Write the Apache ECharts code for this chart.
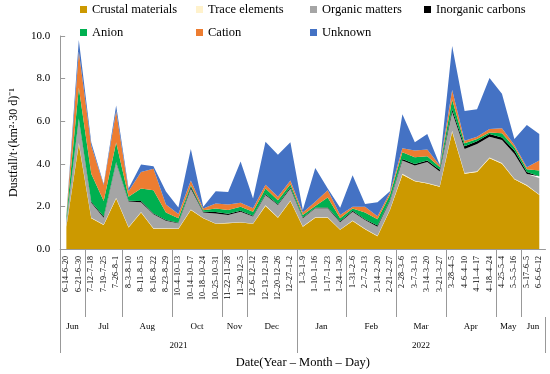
<!DOCTYPE html>
<html><head><meta charset="utf-8">
<script src="https://cdn.jsdelivr.net/npm/echarts@6/dist/echarts.min.js"></script>
<style>html,body{margin:0;padding:0;background:#fff}#c{width:550px;height:374px}</style>
</head><body><div id="c"></div>
<script>
const categories = ['6–14–6–20','6–21–6–30','7–12–7–18','7–19–7–25','7–26–8–1','8–3–8–10','8–11–8–15','8–16–8–22','8–23–8–29','10–4–10–13','10–14–10–17','10–18–10–24','10–25–10–31','11–22–11–28','11–29–12–5','12–6–12–12','12–13–12–19','12–20–12–26','12–27–1–2','1–3–1–9','1–10–1–16','1–17–1–23','1–24–1–30','1–31–2–6','2–7–2–13','2–14–2–20','2–21–2–27','2–28–3–6','3–7–3–13','3–14–3–20','3–21–3–27','3–28–4–5','4–6–4–10','4–11–4–17','4–18–4–24','4–25–5–4','5–5–5–16','5–17–6–5','6–6–6–12'];
const monthNames = ['Jun','Jul','Aug','Oct','Nov','Dec','Jan','Feb','Mar','Apr','May','Jun'];
const monthCounts = [2,3,4,4,2,4,4,4,4,4,2,2];
const yearNames = ['2021','2022'];
const yearCounts = [19,20];
const yTicks = [0,2,4,6,8,10];

const crustal = [1.05,4.93,1.44,1.13,2.37,1.01,1.71,0.95,0.95,0.94,1.83,1.44,1.18,1.21,1.24,1.18,2.02,1.47,2.25,1.05,1.47,1.47,0.90,1.32,0.93,0.60,1.83,3.49,3.18,3.07,2.92,5.50,3.53,3.61,4.26,4.00,3.27,2.97,2.53];
const trace = [0.02,0.05,0.03,0.02,0.04,0.02,0.03,0.02,0.02,0.02,0.03,0.02,0.02,0.02,0.02,0.02,0.03,0.02,0.03,0.02,0.02,0.02,0.02,0.02,0.02,0.02,0.02,0.04,0.03,0.03,0.03,0.05,0.04,0.04,0.04,0.04,0.03,0.03,0.03];
const organic = [0.23,1.11,0.70,0.32,1.64,1.20,0.46,0.66,0.36,0.25,0.98,0.25,0.47,0.37,0.49,0.32,0.48,0.57,0.56,0.37,0.42,0.42,0.34,0.41,0.41,0.43,0.40,0.63,0.71,0.98,0.69,0.88,1.13,1.28,0.97,1.08,1.17,0.52,0.77];
const inorganic = [0.03,0.04,0.05,0.05,0.03,0.04,0.05,0.04,0.03,0.02,0.08,0.04,0.07,0.05,0.05,0.04,0.05,0.04,0.06,0.04,0.03,0.04,0.04,0.05,0.04,0.05,0.05,0.07,0.07,0.08,0.08,0.13,0.12,0.13,0.13,0.12,0.15,0.10,0.09];
const anion = [0.17,1.44,1.31,0.73,0.92,0.18,0.59,1.09,0.35,0.21,0.07,0.07,0.16,0.18,0.18,0.19,0.26,0.19,0.14,0.12,0.08,0.47,0.14,0.10,0.31,0.30,0.23,0.31,0.32,0.20,0.13,0.46,0.14,0.10,0.07,0.20,0.16,0.12,0.27];
const cation = [0.06,1.70,1.32,0.75,1.48,0.26,0.77,1.01,0.38,0.20,0.23,0.08,0.24,0.26,0.19,0.16,0.18,0.16,0.18,0.11,0.20,0.34,0.16,0.08,0.27,0.14,0.12,0.19,0.31,0.31,0.07,0.44,0.12,0.11,0.16,0.23,0.10,0.10,0.46];
const unknown = [0.04,0.54,0.15,0.05,0.26,0.13,0.36,0.11,0.61,0.31,1.48,0.08,0.57,0.59,1.94,0.46,2.02,1.97,1.79,0.12,1.58,0.08,0.34,1.48,0.13,0.66,0.06,1.60,0.39,0.73,0.04,2.07,1.40,1.29,2.40,1.62,0.28,1.98,1.25];

const FONT = '"Liberation Serif","Times New Roman",serif';
const seriesDefs = [
  ['Crustal materials', crustal, '#CC9900'],
  ['Trace elements', trace, '#FFF2CC'],
  ['Organic matters', organic, '#A5A5A5'],
  ['Inorganic carbons', inorganic, '#000000'],
  ['Anion', anion, '#00B050'],
  ['Cation', cation, '#ED7D31'],
  ['Unknown', unknown, '#4472C4']
];
const legendPos = [[80,3],[196,3],[310,3],[424,3],[80,26],[196,26],[310,26]];

const chart = echarts.init(document.getElementById('c'));
chart.setOption({
  animation: false,
  legend: seriesDefs.map((d, i) => ({
    data: [d[0]], left: legendPos[i][0], top: legendPos[i][1], icon: 'rect',
    itemWidth: 7, itemHeight: 7, padding: 0, selectedMode: false,
    textStyle: { fontFamily: FONT, fontSize: 12.5, color: '#000' }
  })),
  grid: { left: 45, right: 4.5, top: 36, bottom: 123 },
  xAxis: {
    type: 'category', data: categories, boundaryGap: true,
    axisLine: { lineStyle: { color: '#999' } },
    axisTick: { interval: 0, length: 52, lineStyle: { color: '#aaa' } },
    axisLabel: { interval: 0, rotate: 90, fontFamily: FONT, fontSize: 8, color: '#000', margin: 7 },
    name: 'Date(Year – Month – Day)', nameLocation: 'middle', nameGap: 107,
    nameTextStyle: { fontFamily: FONT, fontSize: 12.5, color: '#000' }
  },
  yAxis: {
    type: 'value', min: yTicks[0], max: yTicks[yTicks.length - 1], interval: 2,
    axisLine: { show: true, lineStyle: { color: '#999' } },
    axisTick: { show: true, inside: true, length: 5, lineStyle: { color: '#999' } },
    splitLine: { show: false },
    axisLabel: { formatter: v => v.toFixed(1), fontFamily: FONT, fontSize: 11, color: '#000', margin: 10 },
    name: 'Dustfall/t·(km²·30 d)⁻¹', nameLocation: 'middle', nameGap: 31,
    nameTextStyle: { fontFamily: FONT, fontSize: 12, color: '#000' }
  },
  series: seriesDefs.map(d => ({
    name: d[0], type: 'line', stack: 'total', data: d[1], symbol: 'none', showSymbol: false,
    lineStyle: { width: 0 }, areaStyle: { color: d[2], opacity: 1 }, itemStyle: { color: d[2] }
  }))
});

// multi-level axis decorations through the axis scale
const x0 = chart.convertToPixel({ xAxisIndex: 0 }, 0);
const x1 = chart.convertToPixel({ xAxisIndex: 0 }, 1);
const step = x1 - x0;
const bx = k => x0 - step / 2 + k * step;
const yBase = chart.convertToPixel({ yAxisIndex: 0 }, 0);
const g = [];
const line = (x, ya, yb) => g.push({ type: 'line', silent: true, shape: { x1: Math.round(x) + 0.5, y1: ya, x2: Math.round(x) + 0.5, y2: yb }, style: { stroke: '#999', lineWidth: 1 } });
const text = (x, y, s) => g.push({ type: 'text', silent: true, x: x, y: y, style: { text: s, fontFamily: FONT, fontSize: 9, fill: '#000', align: 'center', verticalAlign: 'middle' } });
let k = 0;
monthCounts.forEach((c, i) => {
  text(bx(k + c / 2), yBase + 78, monthNames[i]);
  k += c;
  if (k !== yearCounts[0] && k !== categories.length) line(bx(k), yBase, yBase + 68);
});
k = 0;
line(bx(0), yBase, yBase + 104);
yearCounts.forEach((c, i) => {
  text(bx(k + c / 2), yBase + 97, yearNames[i]);
  k += c;
  if (k === categories.length) line(bx(k), yBase + 68, yBase + 104);
  else line(bx(k), yBase, yBase + 104);
});
chart.setOption({ graphic: g });
</script>
</body></html>
